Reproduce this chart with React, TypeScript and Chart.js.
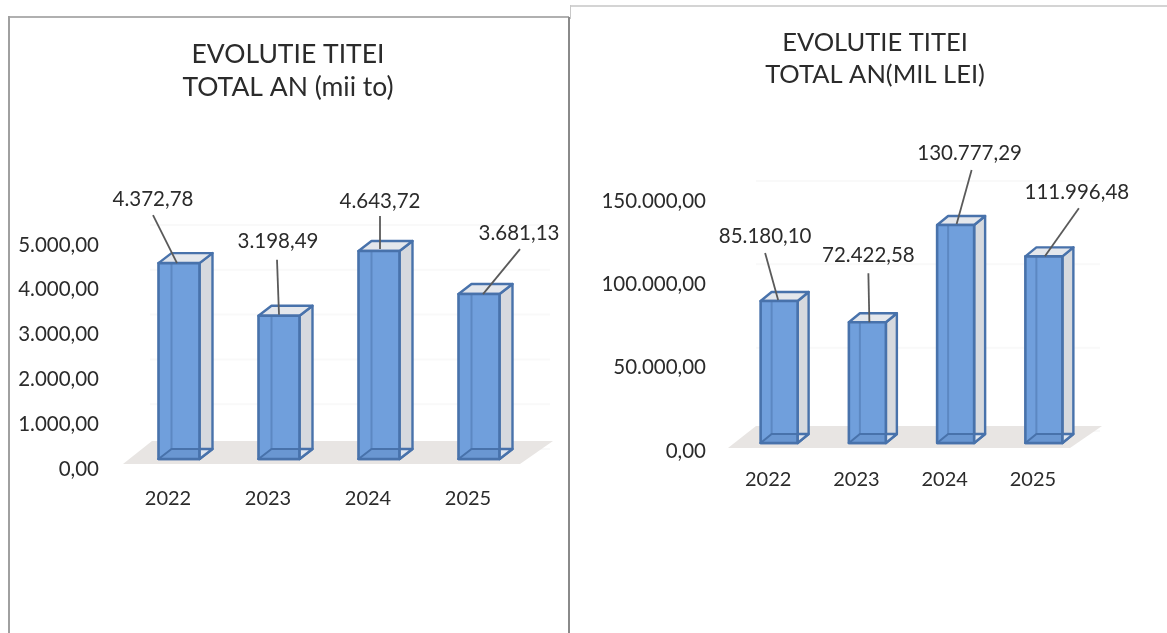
import React, { useEffect, useRef } from "react";
import { Chart, registerables } from "chart.js";

Chart.register(...registerables);

const years = ["2022", "2023", "2024", "2025"];
const tonnes = [4372.78, 3198.49, 4643.72, 3681.13];
const lei = [85180.1, 72422.58, 130777.29, 111996.48];
const tonnesTitle = ["EVOLUTIE TITEI", "TOTAL AN (mii to)"];
const leiTitle = ["EVOLUTIE TITEI", "TOTAL AN(MIL LEI)"];

const FONT = "Lato, 'Open Sans', sans-serif";
const TEXT = "#2b2b2b";
const LABEL_SIZE = 20.5;

const roFormat = (v: number) =>
  v.toLocaleString("ro-RO", { minimumFractionDigits: 2, maximumFractionDigits: 2 });

// label anchor and leader offsets, relative to the top of each bar's front face
type Callout = { lx: number; ly: number; x1: number; y1: number; x2: number; y2: number };

interface PanelOpts {
  values: number[];
  title: string[];
  max: number;
  step: number;
  left: number;
  top: number;
  width: number;
  plotLeft: number;
  plotRight: number;
  plotBottomGap: number;
  titleSize: number;
  titleTop: number;
  titleBottom: number;
  titleLine: number;
  thickness: number;
  tickPad: number;
  xPad: number;
  dx: number;
  dy: number;
  shiftX: number;
  shiftY: number;
  floor: number[][];
  wall: number[];
  wallRise: number;
  callouts: Callout[];
}

const panelA: PanelOpts = {
  values: tonnes,
  title: tonnesTitle,
  max: 5000,
  step: 1000,
  left: 0,
  top: 0,
  width: 576,
  plotLeft: 118,
  plotRight: 518,
  plotBottomGap: 164,
  titleSize: 26.5,
  titleTop: 37.5,
  titleBottom: 141.5,
  titleLine: 1.245,
  thickness: 41,
  tickPad: 19,
  xPad: 18,
  dx: 13,
  dy: -10,
  shiftX: 11,
  shiftY: -10,
  floor: [[123, 464], [152, 441], [553, 441], [520, 464]],
  wall: [150, 550],
  wallRise: 20,
  callouts: [
    { lx: -26, ly: -64, x1: -26, y1: -48, x2: -2, y2: 0 },
    { lx: -1, ly: -74, x1: -2, y1: -56, x2: 0, y2: -1 },
    { lx: 1, ly: -50, x1: 1, y1: -35, x2: 1, y2: -2 },
    { lx: 40, ly: -61, x1: 41, y1: -45, x2: 4, y2: 0 },
  ],
};

const panelB: PanelOpts = {
  values: lei,
  title: leiTitle,
  max: 150000,
  step: 50000,
  left: 568,
  top: 0,
  width: 614,
  plotLeft: 156,
  plotRight: 509,
  plotBottomGap: 182,
  titleSize: 25.5,
  titleTop: 27,
  titleBottom: 110,
  titleLine: 1.255,
  thickness: 37,
  tickPad: 18,
  xPad: 17,
  dx: 11,
  dy: -9,
  shiftX: 11,
  shiftY: -8,
  floor: [[728, 448], [756, 426], [1102, 426], [1070, 448]],
  wall: [756, 1100],
  wallRise: 20,
  callouts: [
    { lx: -14, ly: -65, x1: -14, y1: -48, x2: -1, y2: -1 },
    { lx: 1, ly: -67, x1: 1, y1: -49, x2: 2, y2: 0 },
    { lx: 14, ly: -72, x1: 16, y1: -55, x2: 1, y2: -1 },
    { lx: 33, ly: -64, x1: 35, y1: -48, x2: 1, y2: 0 },
  ],
};

function poly(ctx: CanvasRenderingContext2D, pts: number[][], fill?: string, stroke?: string) {
  ctx.beginPath();
  pts.forEach((p, i) => (i ? ctx.lineTo(p[0], p[1]) : ctx.moveTo(p[0], p[1])));
  ctx.closePath();
  if (fill) {
    ctx.fillStyle = fill;
    ctx.fill();
  }
  if (stroke) {
    ctx.strokeStyle = stroke;
    ctx.stroke();
  }
}

function makeBoxPlugin(p: PanelOpts) {
  return {
    id: "box3d",
    beforeDatasetsDraw(chart: any) {
      const { ctx } = chart;
      const yScale = chart.scales.y;
      const offset = -p.left;
      ctx.save();
      // back wall gridlines
      ctx.strokeStyle = "#f9f9f9";
      ctx.lineWidth = 2;
      yScale.ticks.forEach((t: any) => {
        const y = yScale.getPixelForValue(t.value) - p.wallRise;
        ctx.beginPath();
        ctx.moveTo(p.wall[0] + offset, y);
        ctx.lineTo(p.wall[1] + offset, y);
        ctx.stroke();
      });
      // floor
      poly(ctx, p.floor.map(([x, y]) => [x + offset, y]), "#e8e5e3");
      ctx.restore();
    },
    afterDatasetsDraw(chart: any) {
      const { ctx } = chart;
      const meta = chart.getDatasetMeta(0);
      const edge = "#4872ab";
      const { dx, dy } = p;
      ctx.save();
      ctx.lineJoin = "round";
      meta.data.forEach((el: any, i: number) => {
        const w = el.width;
        const l = el.x - w / 2 + p.shiftX;
        const r = l + w;
        const t = el.y + p.shiftY;
        const b = el.base + p.shiftY;

        ctx.lineWidth = 2.4;
        // right face
        poly(ctx, [[r, t], [r + dx, t + dy], [r + dx, b + dy], [r, b]], "#d6d9de", edge);
        // opening on top
        poly(ctx, [[l, t], [l + dx, t + dy], [r + dx, t + dy], [r, t]], "#e4e7ec", edge);
        // bottom face
        poly(ctx, [[l, b], [l + dx, b + dy], [r + dx, b + dy], [r, b]], "#dfe6f0", edge);
        // front face, translucent over the inner edge
        poly(ctx, [[l, t], [r, t], [r, b], [l, b]], "#709fdc");
        ctx.lineWidth = 2;
        ctx.strokeStyle = "#5c88c2";
        ctx.beginPath();
        ctx.moveTo(l + dx, t);
        ctx.lineTo(l + dx, b + dy);
        ctx.lineTo(r, b + dy);
        ctx.stroke();
        poly(ctx, [[l, b], [l + dx, b + dy], [r, b + dy], [r, b]], "#6a97d2", edge);
        ctx.lineWidth = 2.6;
        poly(ctx, [[l, t], [r, t], [r, b], [l, b]], undefined, edge);

        // leader and value label
        const c = p.callouts[i];
        const cx = el.x + p.shiftX;
        ctx.strokeStyle = "#5a5a5a";
        ctx.lineWidth = 1.8;
        ctx.beginPath();
        ctx.moveTo(cx + c.x1, t + c.y1);
        ctx.lineTo(cx + c.x2, t + c.y2);
        ctx.stroke();
        ctx.fillStyle = TEXT;
        ctx.font = `${LABEL_SIZE}px ${FONT}`;
        ctx.textAlign = "center";
        ctx.textBaseline = "middle";
        ctx.fillText(roFormat(p.values[i]), cx + c.lx, t + c.ly);
      });
      ctx.restore();
    },
  };
}

function Panel({ opts }: { opts: PanelOpts }) {
  const ref = useRef<HTMLCanvasElement | null>(null);
  useEffect(() => {
    const chart = new Chart(ref.current as HTMLCanvasElement, {
      type: "bar",
      data: {
        labels: years,
        datasets: [
          {
            data: opts.values,
            backgroundColor: "rgba(0,0,0,0)",
            borderWidth: 0,
            barThickness: opts.thickness,
          },
        ],
      },
      plugins: [makeBoxPlugin(opts)],
      options: {
        animation: false,
        responsive: false,
        layout: { padding: 0 },
        plugins: {
          legend: { display: false },
          tooltip: { enabled: false },
          title: {
            display: true,
            text: opts.title,
            color: TEXT,
            font: { family: FONT, size: opts.titleSize, weight: "normal", lineHeight: opts.titleLine },
            padding: { top: opts.titleTop, bottom: opts.titleBottom },
          },
        },
        scales: {
          x: {
            border: { display: false },
            grid: { display: false, drawTicks: false },
            ticks: {
              color: TEXT,
              font: { family: FONT, size: LABEL_SIZE - 0.5 },
              padding: opts.xPad,
              maxRotation: 0,
            },
            afterFit: (s: any) => {
              s.height = opts.plotBottomGap;
            },
          },
          y: {
            min: 0,
            max: opts.max,
            border: { display: false },
            grid: { display: false, drawTicks: false },
            ticks: {
              stepSize: opts.step,
              color: TEXT,
              font: { family: FONT, size: LABEL_SIZE },
              padding: opts.tickPad,
              callback: (v: any) => roFormat(Number(v)),
            },
            afterFit: (s: any) => {
              s.width = opts.plotLeft;
            },
          },
          gutter: {
            position: "right",
            display: true,
            border: { display: false },
            grid: { display: false, drawTicks: false },
            ticks: { display: false },
            afterFit: (s: any) => {
              s.width = opts.width - opts.plotRight;
            },
          },
        },
      } as any,
    });
    return () => chart.destroy();
  }, [opts]);
  return (
    <canvas
      ref={ref}
      width={opts.width}
      height={633}
      style={{
        position: "absolute",
        left: opts.left,
        top: opts.top,
        width: opts.width,
        height: 633,
        filter: "blur(0.45px)",
      }}
    />
  );
}

export default function App() {
  return (
    <div style={{ position: "fixed", left: 0, top: 0, width: 1167, height: 633, background: "#fff", overflow: "hidden" }}>
      <Panel opts={panelA} />
      <Panel opts={panelB} />
      <div style={{ position: "absolute", left: 8, top: 16, width: 561, height: 2, background: "#b0b0b0" }} />
      <div style={{ position: "absolute", left: 8, top: 16, width: 2, height: 617, background: "#a0a0a0" }} />
      <div style={{ position: "absolute", left: 568, top: 17, width: 2, height: 616, background: "#8a8a8a" }} />
      <div style={{ position: "absolute", left: 570, top: 5, width: 597, height: 2, background: "#d4d4d4" }} />
      <div style={{ position: "absolute", left: 570, top: 5, width: 1, height: 14, background: "#c8c8c8" }} />
    </div>
  );
}
